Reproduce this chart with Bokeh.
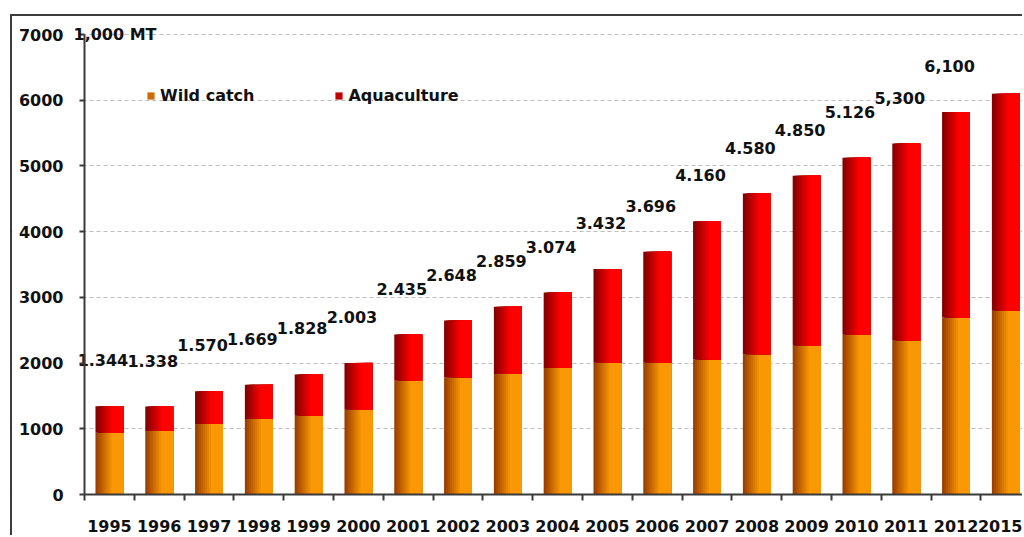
from bokeh.plotting import figure
from bokeh.models import (ColumnDataSource, Range1d, FixedTicker, Legend,
                          LegendItem, Label, BoxAnnotation)
from bokeh.core.properties import value
from bokeh.embed import file_html
from bokeh.resources import INLINE

# ---------------- data ----------------
years = ["1995", "1996", "1997", "1998", "1999", "2000", "2001", "2002",
         "2003", "2004", "2005", "2006", "2007", "2008", "2009", "2010",
         "2011", "2012", "2015"]
wild_catch = [940, 965, 1075, 1150, 1200, 1290, 1735, 1785, 1835, 1925,
              2005, 2005, 2055, 2135, 2265, 2430, 2345, 2695, 2795]
aquaculture = [404, 373, 495, 519, 628, 713, 700, 863, 1024, 1149,
               1427, 1691, 2105, 2445, 2585, 2696, 2995, 3125, 3305]
value_labels = ["1.344", "1.338", "1.570", "1.669", "1.828", "2.003",
                "2.435", "2.648", "2.859", "3.074", "3.432", "3.696",
                "4.160", "4.580", "4.850", "5.126", "5,300", "6,100"]
y_ticks = [0, 1000, 2000, 3000, 4000, 5000, 6000, 7000]
unit_label = "1,000 MT"
series_names = ["Wild catch", "Aquaculture"]

# ---------------- styling ----------------
FONT = "DejaVu Sans"
TXT = "#111111"
AX = "#3a3a3a"
BAR_W = 0.56
N_SLICES = 14
ORANGE_DARK, ORANGE_BRIGHT = (150, 58, 0), (250, 152, 5)
RED_DARK, RED_BRIGHT = (125, 0, 0), (255, 0, 0)
AXIS_X = -0.5                      # where the value axis sits
X_START, X_END = -1.946, 18.375    # frame also covers the tick-label areas
Y_MAX_AXIS = 7000
Y_START, Y_END = -654, 7198


def lerp_col(c0, c1, f):
    return "#%02x%02x%02x" % tuple(int(round(a + (b - a) * f)) for a, b in zip(c0, c1))


def gradient_source(bottoms, tops, dark, bright):
    # each slice runs from its own left edge to the bar's right edge and is
    # drawn over the previous one -> smooth horizontal gradient, no seams
    ls, rs, bs, ts, cs = [], [], [], [], []
    sw = BAR_W / N_SLICES
    for i, (b, t) in enumerate(zip(bottoms, tops)):
        for k in range(N_SLICES):
            f = min(1.0, ((k + 0.5) / N_SLICES) / 0.6)
            ls.append(i - BAR_W / 2 + k * sw)
            rs.append(i + BAR_W / 2)
            bs.append(b)
            ts.append(t)
            cs.append(lerp_col(dark, bright, f))
    return ColumnDataSource(dict(left=ls, right=rs, bottom=bs, top=ts, color=cs))


n = len(years)
totals = [w + a for w, a in zip(wild_catch, aquaculture)]

p = figure(width=1012, height=521, output_backend="svg", toolbar_location=None,
           x_range=Range1d(X_START, X_END), y_range=Range1d(Y_START, Y_END),
           min_border_left=0, min_border_right=0, min_border_top=5,
           min_border_bottom=0)
p.styles = {"margin-top": "14px", "margin-left": "10px",
            "border-top": "2px solid #3d3d3d", "border-left": "2px solid #3d3d3d"}
p.outline_line_color = None
p.background_fill_color = "white"
p.border_fill_color = "white"

# grid styling
p.xgrid.visible = False
p.ygrid.grid_line_color = "#bdbdbd"
p.ygrid.grid_line_dash = "4 3"
p.ygrid.grid_line_width = 1
# keep the gridlines out of the tick-label area (left of the value axis)
p.add_layout(BoxAnnotation(right=AXIS_X, fill_color="white", fill_alpha=1,
                           line_color=None, level="underlay"))

src_w = gradient_source([0] * n, wild_catch, ORANGE_DARK, ORANGE_BRIGHT)
src_a = gradient_source(wild_catch, totals, RED_DARK, RED_BRIGHT)
r_w = p.quad(left="left", right="right", bottom="bottom", top="top", source=src_w,
             fill_color="color", line_color=None)
r_a = p.quad(left="left", right="right", bottom="bottom", top="top", source=src_a,
             fill_color="color", line_color=None)

# value labels
lab_src = ColumnDataSource(dict(
    x=[i - 0.13 for i in range(len(value_labels))],
    y=[totals[i] + 700 for i in range(len(value_labels))],
    text=value_labels))
p.text(x="x", y="y", text="text", source=lab_src, text_font=value(FONT),
       text_font_style="bold", text_font_size="16px", text_color=TXT,
       text_align="center", text_baseline="middle")

# unit label
p.add_layout(Label(x=AXIS_X, y=Y_MAX_AXIS, text=unit_label, x_offset=-11,
                   text_baseline="middle", text_font=FONT, text_font_style="bold",
                   text_font_size="16px", text_color=TXT))

# axes (both pinned inside the frame so their labels are not clipped)
p.yaxis.fixed_location = AXIS_X
p.yaxis.bounds = (0, Y_MAX_AXIS)
p.yaxis.ticker = FixedTicker(ticks=y_ticks)
p.yaxis.axis_line_color = AX
p.yaxis.axis_line_width = 2
p.yaxis.major_tick_line_color = AX
p.yaxis.major_tick_line_width = 2
p.yaxis.major_tick_out = 5
p.yaxis.major_tick_in = 0
p.yaxis.minor_tick_line_color = None
p.yaxis.major_label_standoff = 16
p.yaxis.major_label_text_font = FONT
p.yaxis.major_label_text_font_style = "bold"
p.yaxis.major_label_text_font_size = "16px"
p.yaxis.major_label_text_color = TXT

p.xaxis.fixed_location = 0
p.xaxis.bounds = (AXIS_X, X_END)
p.xaxis.ticker = FixedTicker(ticks=list(range(n)),
                             minor_ticks=[i - 0.5 for i in range(n + 1)])
p.xaxis.major_label_overrides = {i: y for i, y in enumerate(years)}
p.xaxis.axis_line_color = AX
p.xaxis.axis_line_width = 2
p.xaxis.major_tick_line_color = None
p.xaxis.major_tick_out = 0
p.xaxis.major_tick_in = 0
p.xaxis.minor_tick_line_color = AX
p.xaxis.minor_tick_line_width = 2
p.xaxis.minor_tick_out = 6
p.xaxis.minor_tick_in = 0
p.xaxis.major_label_standoff = 19
p.xaxis.major_label_text_font = FONT
p.xaxis.major_label_text_font_style = "bold"
p.xaxis.major_label_text_font_size = "16px"
p.xaxis.major_label_text_color = TXT

legend = Legend(items=[LegendItem(label=series_names[0], renderers=[r_w], index=4),
                       LegendItem(label=series_names[1], renderers=[r_a], index=4)],
                location=(134, 432), orientation="horizontal",
                background_fill_alpha=0, border_line_color=None,
                padding=0, margin=0, spacing=80, label_standoff=5,
                glyph_width=9, glyph_height=9,
                label_text_font=FONT, label_text_font_style="bold",
                label_text_font_size="16px", label_text_color=TXT)
p.add_layout(legend)

open("out.html", "w").write(file_html(p, INLINE))
